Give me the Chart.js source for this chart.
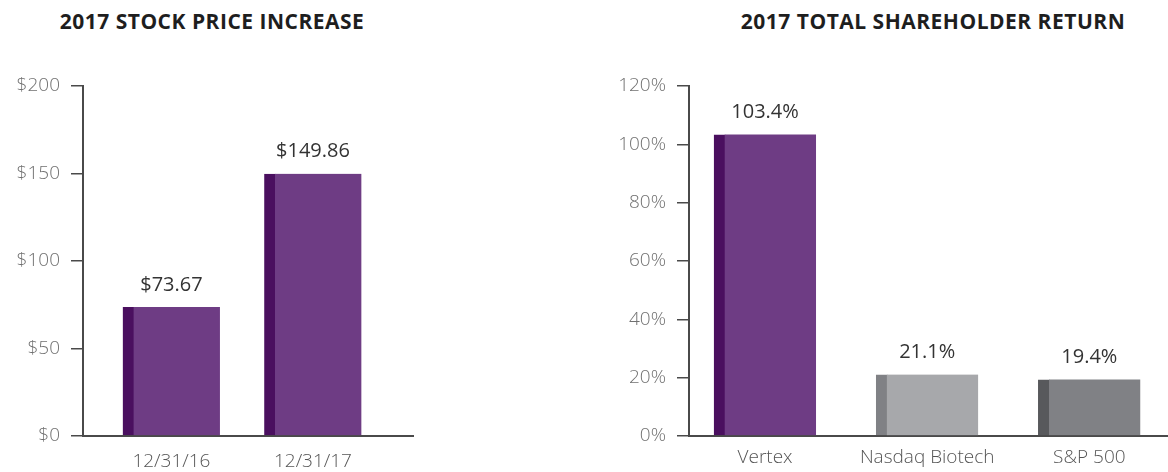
<!DOCTYPE html>
<html>
<head>
<meta charset="utf-8">
<script src="https://cdn.jsdelivr.net/npm/chart.js@4"></script>
<style>
  body { margin: 0; background: #fff; width: 1168px; height: 472px; overflow: hidden; position: relative; }
  .title { position: absolute; top: 7px; font-family: "Open Sans", sans-serif; font-weight: 700; font-size: 21px; color: #1e1e1e; white-space: nowrap; transform: translateX(-50%); letter-spacing: 0.5px; }
  .box { position: absolute; top: 0; height: 472px; }
</style>
</head>
<body>
<div class="title" style="left:212px">2017 STOCK PRICE INCREASE</div>
<div class="title" style="left:933px">2017 TOTAL SHAREHOLDER RETURN</div>
<div class="box" style="left:0;width:430px"><canvas id="priceChart"></canvas></div>
<div class="box" style="left:580px;width:588px"><canvas id="tsrChart"></canvas></div>
<script>
const priceDates = ["12/31/16", "12/31/17"];
const priceValues = [73.67, 149.86];
const priceTicks = [0, 50, 100, 150, 200];

const tsrNames = ["Vertex", "Nasdaq Biotech", "S&P 500"];
const tsrValues = [103.4, 21.1, 19.4];
const tsrTicks = [0, 20, 40, 60, 80, 100, 120];

const tickFont = { family: "Open Sans", size: 19, weight: 300 };
const axisColor = "#4a4a4a";

// value text above each bar
const valueLabels = {
  id: "valueLabels",
  afterDatasetsDraw(chart, args, opts) {
    const ctx = chart.ctx;
    const meta = chart.getDatasetMeta(0);
    ctx.save();
    ctx.font = "400 20px 'Open Sans'";
    ctx.fillStyle = "#333";
    ctx.textAlign = "center";
    ctx.textBaseline = "middle";
    meta.data.forEach((bar, i) => {
      const v = chart.data.datasets[0].data[i].y;
      ctx.fillText(opts.fmt(v), bar.x, bar.y - 22);
    });
    ctx.restore();
  }
};

function makeChart(id, cfg) {
  const data = cfg.values.map((v, i) => ({ x: i + 1, y: v }));
  return new Chart(document.getElementById(id), {
    type: "bar",
    data: {
      datasets: [{
        data,
        backgroundColor: cfg.colors,
        borderColor: cfg.edgeColors,
        borderWidth: { left: 11, top: 0, right: 0, bottom: 0 },
        borderSkipped: false,
        barThickness: cfg.barWidth
      }]
    },
    options: {
      responsive: true,
      maintainAspectRatio: false,
      animation: false,
      layout: { padding: { top: 86, right: cfg.padRight, bottom: 0, left: 0 } },
      plugins: {
        legend: { display: false },
        tooltip: { enabled: false },
        valueLabels: { fmt: cfg.fmt }
      },
      scales: {
        x: {
          type: "linear",
          offset: false,
          min: cfg.xMin,
          max: cfg.xMax,
          grid: { display: false, drawTicks: false, offset: false },
          border: { display: true, color: axisColor, width: 2 },
          afterBuildTicks: (s) => { s.ticks = cfg.names.map((_, i) => ({ value: i + 1 })); },
          afterFit: (s) => { s.height = 36; },
          ticks: {
            padding: cfg.xPad,
            color: "#555",
            font: tickFont,
            callback: (v) => cfg.names[v - 1] || ""
          }
        },
        y: {
          min: 0,
          max: cfg.ticks[cfg.ticks.length - 1],
          afterBuildTicks: (s) => { s.ticks = cfg.ticks.map(v => ({ value: v })); },
          afterFit: (s) => { s.width = cfg.axisLeft; },
          grid: { drawOnChartArea: false, tickLength: 12, color: axisColor, lineWidth: 1.5 },
          border: { display: true, color: axisColor, width: 2 },
          ticks: {
            padding: 11,
            color: "#707070",
            font: tickFont,
            callback: cfg.tickFmt
          }
        }
      }
    },
    plugins: [valueLabels]
  });
}

makeChart("priceChart", {
  names: priceDates,
  values: priceValues,
  ticks: priceTicks,
  colors: "#6e3c84",
  edgeColors: "#4a0f5f",
  barWidth: 97,
  xMin: 0.375,
  xMax: 2.707,
  axisLeft: 83,
  padRight: 17,
  xPad: 14,
  fmt: (v) => "$" + v.toFixed(2),
  tickFmt: (v) => "$" + v
});

makeChart("tsrChart", {
  names: tsrNames,
  values: tsrValues,
  ticks: tsrTicks,
  colors: ["#6e3c84", "#a7a8ab", "#808185"],
  edgeColors: ["#4a0f5f", "#808185", "#58595c"],
  barWidth: 102,
  xMin: 0.531,
  xMax: 3.485,
  axisLeft: 109,
  padRight: 0,
  xPad: 10,
  fmt: (v) => v.toFixed(1) + "%",
  tickFmt: (v) => v + "%"
});
</script>
</body>
</html>
